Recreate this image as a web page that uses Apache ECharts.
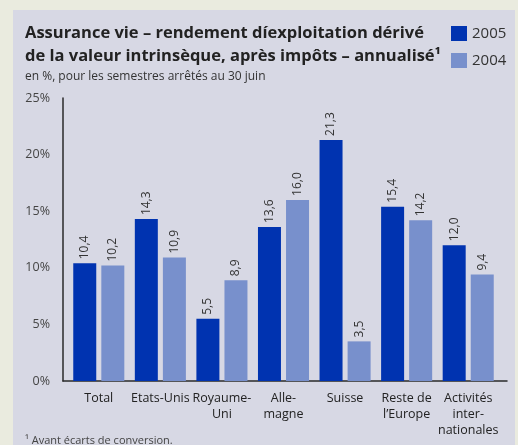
<!DOCTYPE html>
<html>
<head>
<meta charset="utf-8">
<script src="https://cdn.jsdelivr.net/npm/echarts@6/dist/echarts.min.js"></script>
<style>
  html, body { margin: 0; padding: 0; background: #eaebdf; }
  #chart { width: 518px; height: 445px; }
</style>
</head>
<body>
<div id="chart"></div>
<script>
// données
var categories = ['Total', 'Etats-Unis', 'Royaume-\nUni', 'Alle-\nmagne', 'Suisse', 'Reste de\nl\u2019Europe', 'Activités\ninter-\nnationales'];
var values2005 = [10.4, 14.3, 5.5, 13.6, 21.3, 15.4, 12.0];
var values2004 = [10.2, 10.9, 8.9, 16.0, 3.5, 14.2, 9.4];
var yTicks = [0, 5, 10, 15, 20, 25];

var FONT = '"Open Sans", "Noto Sans", sans-serif';
var chart = echarts.init(document.getElementById('chart'), null, { width: 518, height: 445 });

function labelFmt(p) {
    return p.value.toFixed(1).replace('.', ',');
}

var option = {
    backgroundColor: '#eaebdf',
    animation: false,
    textStyle: { fontFamily: FONT },
    graphic: [{
        type: 'rect', z: -10, silent: true,
        shape: { x: 13, y: 10, width: 502, height: 440 },
        style: { fill: '#d7d8e4' }
    }],
    title: [{
        text: 'Assurance vie \u2013 rendement díexploitation dérivé\nde la valeur intrinsèque, après impôts \u2013 annualisé\u00b9',
        left: 20, top: 17,
        textStyle: { fontFamily: FONT, fontSize: 16.5, fontWeight: 'bold', color: '#222', lineHeight: 23 }
    }, {
        text: 'en %, pour les semestres arrêtés au 30 juin',
        left: 20, top: 66,
        textStyle: { fontFamily: FONT, fontSize: 12, fontWeight: 'normal', color: '#333' }
    }, {
        text: '\u00b9 Avant écarts de conversion.',
        left: 20, top: 430,
        textStyle: { fontFamily: FONT, fontSize: 11, fontWeight: 'normal', color: '#444' }
    }],
    legend: {
        orient: 'vertical', left: 446, top: 21,
        itemWidth: 16, itemHeight: 15, itemGap: 12,
        icon: 'rect',
        textStyle: { fontFamily: FONT, fontSize: 15, color: '#333' },
        data: ['2005', '2004']
    },
    grid: [
        { left: 68, width: 431, top: 98, bottom: 64 },
        { left: 63, width: 444, top: 98, bottom: 64 }
    ],
    xAxis: [{
        type: 'category', gridIndex: 0,
        data: categories,
        axisLine: { show: false },
        axisTick: { show: false },
        axisLabel: { fontFamily: FONT, fontSize: 12.5, color: '#222', lineHeight: 16, margin: 9, interval: 0 }
    }, {
        type: 'value', gridIndex: 1, min: 0, max: 1,
        axisLine: { show: true, lineStyle: { color: '#2a2a2a', width: 1.5 } },
        axisTick: { show: false }, axisLabel: { show: false }, splitLine: { show: false }
    }],
    yAxis: [{
        type: 'value', gridIndex: 0, min: 0, max: 25, interval: 5,
        axisLine: { show: false }, axisTick: { show: false },
        axisLabel: { show: false }, splitLine: { show: false }
    }, {
        type: 'value', gridIndex: 1, min: yTicks[0], max: yTicks[yTicks.length - 1], interval: 5,
        axisLine: { show: true, lineStyle: { color: '#2a2a2a', width: 1.5 } },
        axisTick: { show: false }, splitLine: { show: false },
        axisLabel: { fontFamily: FONT, fontSize: 12.5, color: '#444', margin: 13, formatter: '{value}%' }
    }],
    series: [{
        name: '2005', type: 'bar', xAxisIndex: 0, yAxisIndex: 0,
        data: values2005,
        barWidth: 23, barGap: '22%',
        itemStyle: { color: '#0033b0' },
        label: {
            show: true, position: 'top', rotate: 90, align: 'left', verticalAlign: 'middle',
            distance: 4, fontFamily: FONT, fontSize: 12, color: '#333', formatter: labelFmt
        }
    }, {
        name: '2004', type: 'bar', xAxisIndex: 0, yAxisIndex: 0,
        data: values2004,
        barWidth: 23,
        itemStyle: { color: '#7890cc' },
        label: {
            show: true, position: 'top', rotate: 90, align: 'left', verticalAlign: 'middle',
            distance: 4, fontFamily: FONT, fontSize: 12, color: '#333', formatter: labelFmt
        }
    }]
};

chart.setOption(option);
</script>
</body>
</html>
